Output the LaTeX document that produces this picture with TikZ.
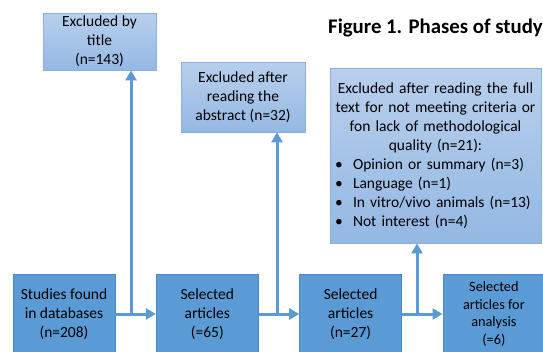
\documentclass[tikz,border=0pt]{standalone}
\usepackage{fontspec}
\setmainfont{Carlito}
\usepackage{tikz}
\usetikzlibrary{positioning}
\usetikzlibrary{arrows.meta}
\usepackage{xcolor}
\definecolor{phasefill}{HTML}{5B9BD5}
\definecolor{phaseline}{HTML}{4A86C2}
\definecolor{excltop}{HTML}{B8CFEC}
\definecolor{exclbottom}{HTML}{94B8E3}
\definecolor{exclline}{HTML}{8AB0DE}

\begin{document}
\begin{tikzpicture}[x=1pt, y=-1pt,
  every node/.style = {shape=rectangle, align=center, inner sep=0pt,
    font=\fontsize{15.5}{19}\selectfont},
  phase/.style = {draw=phaseline, fill=phasefill, line width=0.8pt,
    minimum width=102pt, minimum height=80pt},
  excl/.style = {draw=exclline, line width=0.8pt,
    top color=excltop, bottom color=exclbottom},
  flow/.style = {draw=phasefill, line width=3pt,
    -{Triangle[length=10pt,width=11pt]}}
  ]
  \useasboundingbox (0,0) rectangle (543,351);
  \node[font=\bfseries\fontsize{20.8}{24}\selectfont, anchor=base west] (title) at (328,33) {Figure 1. Phases of study};

  \node[phase] (found) at (64,314) {Studies found\\in databases\\(n=208)};
  \node[phase, right=40.5pt of found] (sel65) {Selected\\articles\\(=65)};
  \node[phase, right=40.5pt of sel65] (sel27) {Selected\\articles\\(n=27)};
  \node[phase, right=40.5pt of sel27, font=\fontsize{14.3}{17.5}\selectfont] (sel6) {Selected\\articles for\\analysis\\(=6)};

  \node[excl, minimum width=113pt, minimum height=57pt] (bytitle) at (99.5,41.5) {Excluded by\\title\\(n=143)};
  \node[excl, minimum width=124pt, minimum height=70pt] (byabstract) at (243,97) {Excluded after\\reading the\\abstract (n=32)};
  \node[excl, text width=205pt, inner xsep=3pt, minimum height=175pt] (byfulltext) at (435.5,155.5) {Excluded after reading the full\\text for not meeting criteria or\\fon lack of methodological\\quality (n=21):\\
    \hspace*{2pt}\makebox[18pt][l]{\textbullet}Opinion or summary (n=3)\hfill\null\\
    \hspace*{2pt}\makebox[18pt][l]{\textbullet}Language (n=1)\hfill\null\\
    \hspace*{2pt}\makebox[18pt][l]{\textbullet}In vitro/vivo animals (n=13)\hfill\null\\
    \hspace*{2pt}\makebox[18pt][l]{\textbullet}Not interest (n=4)\hfill\null};

  \coordinate (up1) at (131,314);
  \coordinate (up2) at (277,314);
  \coordinate (up3) at (417,314);
  \draw[flow] (found) -- (sel65);
  \draw[flow] (sel65) -- (sel27);
  \draw[flow] (sel27) -- (sel6);
  \draw[flow] (up1) -- (up1 |- bytitle.south);
  \draw[flow] (up2) -- (up2 |- byabstract.south);
  \draw[flow] (up3) -- (up3 |- byfulltext.south);
\end{tikzpicture}
\end{document}
